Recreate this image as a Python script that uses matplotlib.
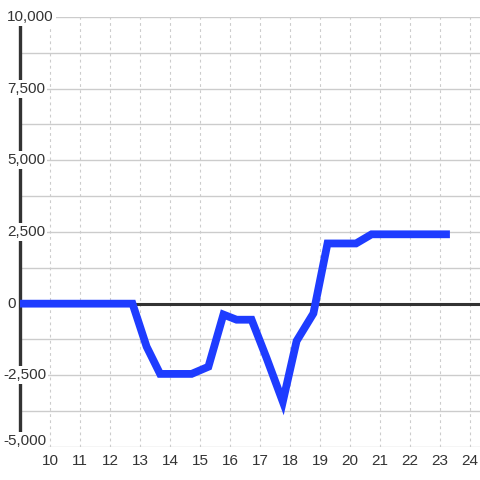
import matplotlib
matplotlib.use("Agg")
import matplotlib.pyplot as plt
import numpy as np

plt.rcParams['font.family'] = ['Liberation Sans', 'DejaVu Sans']

# data (hour of day, value)
hours = [9.0, 12.75, 13.22, 13.67, 14.72, 15.28, 15.78, 16.22, 16.72, 17.22,
         17.76, 18.22, 18.78, 19.25, 20.2, 20.72, 23.33]
values = [0, 0, -1500, -2450, -2450, -2200, -380, -560, -560, -1900,
          -3420, -1300, -340, 2100, 2100, 2420, 2420]

x_ticks = list(range(10, 25))
y_ticks = [-5000, -2500, 0, 2500, 5000, 7500, 10000]
y_labels = ['-5,000', '-2,500', '0', '2,500', '5,000', '7,500', '10,000']

fig = plt.figure(figsize=(4.8, 4.8), dpi=100)
ax = fig.add_axes([20 / 480, 33 / 480, 460 / 480, 430 / 480])

ax.set_xlim(9.0, 24.333)
ax.set_ylim(-5000, 10000)

# grid
for y in np.arange(-5000, 10001, 1250):
    ax.axhline(y, color='#cccccc', lw=1, zorder=1)
for x in x_ticks:
    ax.axvline(x, color='#cccccc', lw=0.8, ls=(0, (2.5, 3)), zorder=1)

ax.axhline(0, color='#333333', lw=2.2, zorder=3)

for s in ['top', 'right', 'bottom']:
    ax.spines[s].set_visible(False)
ax.spines['left'].set_color('#333333')
ax.spines['left'].set_linewidth(2.4)
ax.spines['left'].set_zorder(4)

ax.plot(hours, values, color='#1e3cff', lw=5.6, solid_joinstyle='miter',
        solid_capstyle='butt', zorder=5, clip_on=False)

ax.set_yticks([])
ax.set_xticks(x_ticks)
ax.set_xticklabels([str(t) for t in x_ticks], fontsize=11, color='#333333')
ax.tick_params(axis='x', length=0, pad=5)

for y, lab in zip(y_ticks, y_labels):
    dx = -17 if lab.startswith('-') else -13
    dy = 6 if y == y_ticks[0] else 0
    ax.annotate(lab, (0, y), xycoords=ax.get_yaxis_transform(),
                xytext=(dx * 0.72, dy * 0.72), textcoords='offset points',
                ha='left', va='center', fontsize=11, color='#333333', zorder=6,
                bbox=dict(facecolor='white', edgecolor='none', pad=1.5))

fig.savefig('out.png', dpi=100)
